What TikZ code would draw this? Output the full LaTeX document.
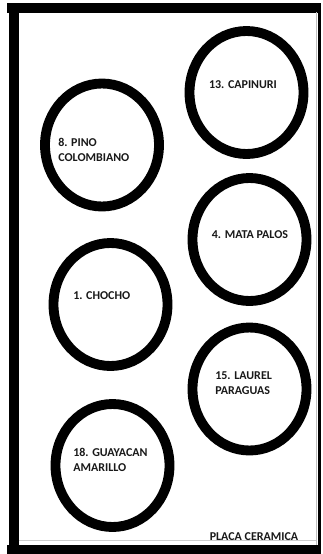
\documentclass[tikz,border=0pt]{standalone}
\usepackage{fontspec}
\setmainfont{Carlito}
\usetikzlibrary{shapes.geometric}
\begin{document}
\begin{tikzpicture}[x=0.75pt,y=-0.75pt,
  ring/.style={draw=black,line width=7.4pt,ellipse,minimum width=85.5pt,minimum height=92.25pt,inner sep=0pt},
  lbl/.style={font=\bfseries\fontsize{9}{11.3}\selectfont,inner sep=0pt,align=left,text=black!90},
  frame/.style={line width=7.5pt,black}]
\useasboundingbox (0,0) rectangle (323,554);
\fill[white] (0,0) rectangle (323,554);
% frame
\coordinate (tl) at (14,7.5);
\coordinate (tr) at (321,7.5);
\coordinate (bl) at (14,549.5);
\coordinate (br) at (321,549.5);
\draw[frame] (tl) -- (bl);
\draw[frame] ([xshift=-5pt]tl) -- (tr);
\draw[frame] ([xshift=-5pt]bl) -- (br);
\draw[line width=2.4pt,black] (319.5,3) -- (319.5,554);
\coordinate (gl) at (19,540);
\coordinate (gr) at (317,540);
\draw[gray!40,line width=0.6pt] (gl) -- (gr);
\draw[gray!50,line width=0.6pt] (316.5,12) -- (316.5,545);
% rings
\node[ring] (c13) at (246.5,92.5) {};
\node[ring] (c8) at (102,145) {};
\node[ring] (c4) at (249.5,239.5) {};
\node[ring] (c1) at (110.5,304.5) {};
\node[ring] (c15) at (249.5,389) {};
\node[ring] (c18) at (112.5,465.5) {};
% labels
\node[lbl] (t13) at (243,85) {13. CAPINURI};
\node[lbl,anchor=west] (t8) at (58,149.5) {8. PINO\\COLOMBIANO};
\node[lbl] (t4) at (250,235) {4. MATA PALOS};
\node[lbl,anchor=west] (t1) at (73,296) {1. CHOCHO};
\node[lbl,anchor=west] (t15) at (215,383.5) {15. LAUREL\\PARAGUAS};
\node[lbl,anchor=west] (t18) at (73,459.5) {18. GUAYACAN\\AMARILLO};
\node[lbl] (tp) at (254,536.5) {PLACA CERAMICA};
\end{tikzpicture}
\end{document}
